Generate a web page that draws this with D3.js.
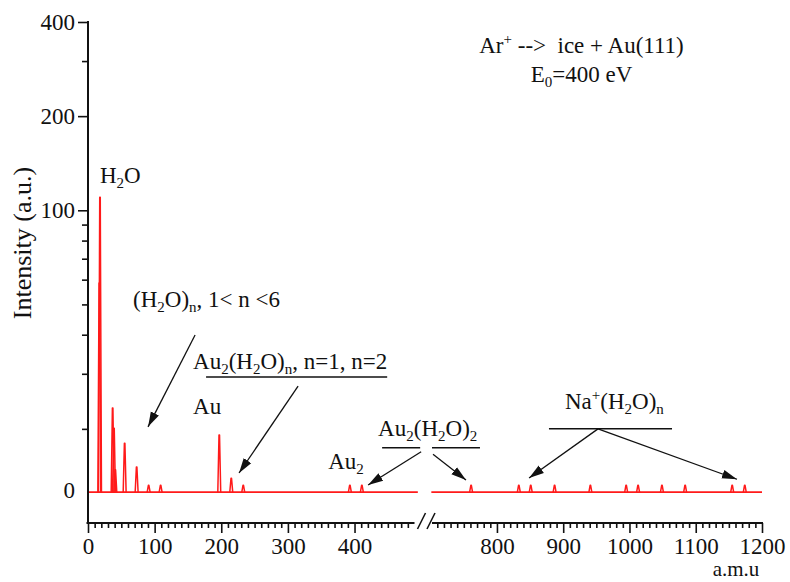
<!DOCTYPE html>
<html><head><meta charset="utf-8">
<script src="https://cdn.jsdelivr.net/npm/d3@7"></script>
<style>
body{margin:0;background:#fff}
svg{display:block}
svg text{fill:#111;white-space:pre}
</style>
</head><body>
<svg id="c" width="790" height="582"></svg>
<script>
// ---- data ----
const peakMass      = [17, 18, 37, 39, 41, 55, 73, 91, 109, 197, 215, 233, 393, 411,
                       761, 833, 851, 887, 941, 995, 1013, 1049, 1084, 1155, 1174];
const peakIntensity = [58.5, 110, 23.3, 20.1, 14.8, 18.0, 15.1, 13.2, 13.2, 19.1, 13.9, 13.2, 13.2, 13.2,
                       13.2, 13.2, 13.2, 13.2, 13.2, 13.2, 13.2, 13.2, 13.2, 13.2, 13.2];
const baselineIntensity = 12.55;
const leftRange  = [0, 490];      // amu shown before the axis break
const rightRange = [702, 1200];   // amu shown after the axis break
const xMajorLeft  = [0, 100, 200, 300, 400];
const xMajorRight = [800, 900, 1000, 1100, 1200];
const yMajor = [100, 200, 400];
const yMinor = [20, 30, 40, 50, 60, 70, 80, 90, 300];
const yZeroLabel = "0";

// annotation texts: [mass, intensity, parts, anchor]
const labels = [
  [18, 122.3, [["H"],["2","sub"],["O"]], "start"],
  [67.6, 49.1, [["(H"],["2","sub"],["O)"],["n","sub"],[", 1< n <6"]], "start"],
  [157.7, 31.1, [["Au"],["2","sub"],["(H"],["2","sub"],["O)"],["n","sub"],[", n=1, n=2"]], "start"],
  [157.7, 22.3, [["Au"]], "start"],
  [360.4, 14.88, [["Au"],["2","sub"]], "start"],
  [435.4, 19.0, [["Au"],["2","sub"],["(H"],["2","sub"],["O)"],["2","sub"]], "start"],
  [902.7, 23.2, [["Na"],["+","sup"],["(H"],["2","sub"],["O)"],["n","sub"]], "start"],
  [927.6, 318.4, [["Ar"],["+","sup"],[" -->  ice + Au(111)"]], "middle"],
  [927.6, 257.8, [["E"],["0","sub"],["=400 eV"]], "middle"]
];
// underline segments [m1, m2, intensity]
const underlines = [
  [177.2, 449, 29.3],
  [441.4, 498.5, 17.4],
  [702, 774.4, 17.4],
  [878.5, 1064.2, 20.0]
];
// arrows [m1, v1, m2(tip), v2(tip)]
const arrows = [
  [160.7, 39.9, 90.1, 20.3],
  [315.3, 27.4, 226.7, 14.45],
  [500, 16.9, 420.4, 13.23],
  [703.5, 16.6, 753.3, 13.73],
  [952.5, 20.0, 848.5, 13.93],
  [952.5, 20.0, 1162.2, 13.8]
];

// ---- scales ----
const FONT = "'Liberation Serif','Times New Roman',Tinos,'Noto Serif','DejaVu Serif',serif";
const svg = d3.select("#c");
const xL = d3.scaleLinear().domain(leftRange).range([88, 414.5]);
const xR = d3.scaleLinear().domain(rightRange).range([432, 762]);
const X = m => m > 600 ? xR(m) : xL(m);
const y = d3.scaleLog().domain([10, 400]).range([523, 22]);
const axisY = 523;

// ---- spectrum ----
const red = "#ff1a1a";
const g = svg.append("g");
[[leftRange[0], leftRange[1] + 5], [rightRange[0] - 1, rightRange[1]]].forEach(r => {
  g.append("line").attr("x1", X(r[0])).attr("x2", r[1] > 600 ? xR(r[1]) : xL(r[1]))
    .attr("y1", y(baselineIntensity)).attr("y2", y(baselineIntensity))
    .attr("stroke", red).attr("stroke-width", 1.6);
});
const hw = 2.2;
const line = d3.line().x(d => X(d[0])).y(d => y(d[1]));
peakMass.forEach((m, i) => {
  const v = peakIntensity[i];
  g.append("path").attr("d", line([[m - hw, baselineIntensity], [m - 0.4, v], [m + 0.4, v], [m + hw, baselineIntensity]]))
    .attr("fill", "none").attr("stroke", red).attr("stroke-width", 1.5).attr("stroke-linejoin", "round");
});

// ---- axes ----
function styleAxis(sel) {
  sel.attr("font-family", FONT).attr("font-size", 23);
  sel.select(".domain").remove();
  sel.selectAll("line").attr("stroke", "#111").attr("stroke-width", 1.6);
  sel.selectAll("text").attr("fill", "#111");
}
const minorL = d3.range(10, 490, 10).filter(v => v % 100);
const minorR = d3.range(710, 1200, 10).filter(v => v % 100);
svg.append("g").attr("transform", `translate(0,${axisY})`)
  .call(d3.axisBottom(xL).tickValues(minorL).tickSize(5).tickFormat("")).call(styleAxis);
svg.append("g").attr("transform", `translate(0,${axisY})`)
  .call(d3.axisBottom(xR).tickValues(minorR).tickSize(5).tickFormat("")).call(styleAxis);
svg.append("g").attr("transform", `translate(0,${axisY})`)
  .call(d3.axisBottom(xL).tickValues(xMajorLeft).tickSize(10).tickPadding(5).tickFormat(d3.format("d"))).call(styleAxis);
svg.append("g").attr("transform", `translate(0,${axisY})`)
  .call(d3.axisBottom(xR).tickValues(xMajorRight).tickSize(10).tickPadding(5).tickFormat(d3.format("d"))).call(styleAxis);
svg.append("line").attr("x1", xL.range()[0] - 1.5).attr("x2", xL.range()[1])
  .attr("y1", axisY).attr("y2", axisY).attr("stroke", "#111").attr("stroke-width", 2);
svg.append("line").attr("x1", xR.range()[0]).attr("x2", xR.range()[1] + 1)
  .attr("y1", axisY).attr("y2", axisY).attr("stroke", "#111").attr("stroke-width", 2);
const gapL = xL.range()[1], gapR = xR.range()[0];
[[gapL + 3, gapL + 11], [gapR - 5, gapR + 3]].forEach(s => {
  svg.append("line").attr("x1", s[0]).attr("y1", axisY + 6).attr("x2", s[1]).attr("y2", axisY - 10)
    .attr("stroke", "#111").attr("stroke-width", 1.6);
});

svg.append("g").attr("transform", "translate(88,0)")
  .call(d3.axisLeft(y).tickValues(yMinor).tickSize(6).tickFormat("")).call(styleAxis);
svg.append("g").attr("transform", "translate(88,0)")
  .call(d3.axisLeft(y).tickValues(yMajor).tickSize(10).tickPadding(3).tickFormat(d3.format("d"))).call(styleAxis);
svg.append("line").attr("x1", 88).attr("x2", 88).attr("y1", y(400) - 1).attr("y2", axisY)
  .attr("stroke", "#111").attr("stroke-width", 2);
svg.append("text").attr("x", 75).attr("y", y(baselineIntensity)).attr("dy", "0.26em")
  .attr("text-anchor", "end").attr("font-family", FONT).attr("font-size", 23).text(yZeroLabel);

svg.append("text").attr("transform", "translate(31,243) rotate(-90)").attr("text-anchor", "middle")
  .attr("font-family", FONT).attr("font-size", 26).text("Intensity (a.u.)");
svg.append("text").attr("x", 736).attr("y", 576).attr("text-anchor", "middle")
  .attr("font-family", FONT).attr("font-size", 21).text("a.m.u");

function rich(x, yy, parts, anchor, fs) {
  const t = svg.append("text").attr("x", x).attr("y", yy).attr("text-anchor", anchor)
    .attr("font-family", FONT).attr("font-size", fs);
  let shift = 0;
  parts.forEach(p => {
    const type = p[1] || "n";
    const target = type === "sub" ? 5 : type === "sup" ? -9 : 0;
    t.append("tspan").attr("dy", target - shift).attr("font-size", type === "n" ? fs : 15).text(p[0]);
    shift = target;
  });
}
labels.forEach(l => rich(X(l[0]), y(l[1]), l[2], l[3], 23));

underlines.forEach(u => {
  svg.append("line").attr("x1", X(u[0])).attr("x2", X(u[1])).attr("y1", y(u[2])).attr("y2", y(u[2]))
    .attr("stroke", "#111").attr("stroke-width", 1.5);
});

svg.append("defs").append("marker").attr("id", "ah").attr("markerUnits", "userSpaceOnUse")
  .attr("markerWidth", 16).attr("markerHeight", 12).attr("viewBox", "0 -6 16 12")
  .attr("refX", 15).attr("refY", 0).attr("orient", "auto")
  .append("path").attr("d", "M0,-4.5L15,0L0,4.5Z").attr("fill", "#111");
arrows.forEach(a => {
  svg.append("line").attr("x1", X(a[0])).attr("y1", y(a[1])).attr("x2", X(a[2])).attr("y2", y(a[3]))
    .attr("stroke", "#111").attr("stroke-width", 1.3).attr("marker-end", "url(#ah)");
});
</script>
</body></html>
